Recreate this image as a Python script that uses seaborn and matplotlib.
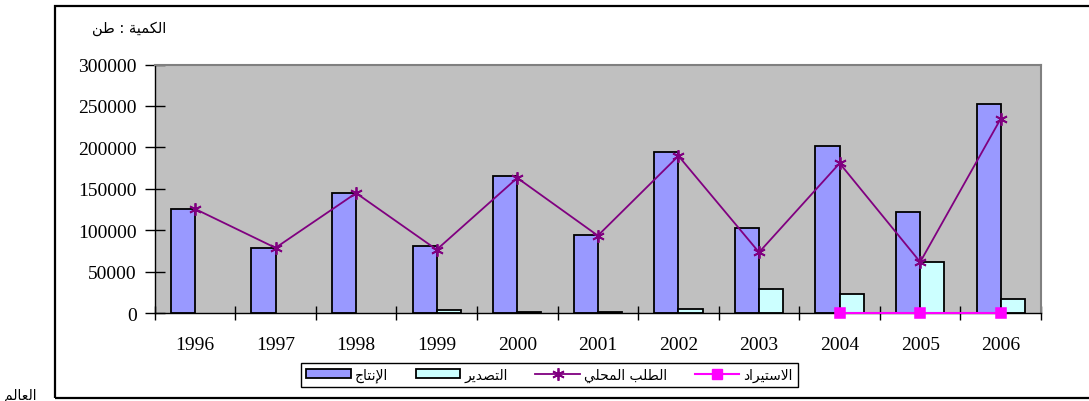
import numpy as np
import pandas as pd
import seaborn as sns
import matplotlib
matplotlib.use("Agg")
import matplotlib.pyplot as plt
from matplotlib.patches import Patch, Rectangle
from matplotlib.lines import Line2D
from matplotlib.ticker import FuncFormatter

# data (tonnes)
years = ['1996', '1997', '1998', '1999', '2000', '2001', '2002', '2003', '2004', '2005', '2006']
production = [126000, 79000, 145500, 80800, 165300, 94800, 194600, 103300, 201900, 122600, 252900]
export = [np.nan, np.nan, np.nan, 3600, 1500, 1800, 5200, 29700, 22900, 61500, 17600]
demand = [126000, 79000, 145000, 76800, 163300, 93700, 189800, 73600, 181000, 61900, 234800]
imports = [np.nan] * 8 + [300, 300, 300]

lbl_prod = "الإنتاج"
lbl_exp = "التصدير"
lbl_dem = "الطلب المحلي"
lbl_imp = "الاستيراد"
unit_txt = "الكمية : طن"
corner_txt = "العالم"

# matplotlib has no arabic shaping -> use presentation forms, visual order
FORMS = {
    'ا': ('\uFE8D', '\uFE8E'), 'إ': ('\uFE87', '\uFE88'), 'ة': ('\uFE93', '\uFE94'),
    'د': ('\uFEA9', '\uFEAA'), 'ر': ('\uFEAD', '\uFEAE'),
    'ب': ('\uFE8F', '\uFE90', '\uFE91', '\uFE92'), 'ت': ('\uFE95', '\uFE96', '\uFE97', '\uFE98'),
    'ج': ('\uFE9D', '\uFE9E', '\uFE9F', '\uFEA0'), 'ح': ('\uFEA1', '\uFEA2', '\uFEA3', '\uFEA4'),
    'س': ('\uFEB1', '\uFEB2', '\uFEB3', '\uFEB4'), 'ص': ('\uFEB9', '\uFEBA', '\uFEBB', '\uFEBC'),
    'ط': ('\uFEC1', '\uFEC2', '\uFEC3', '\uFEC4'), 'ع': ('\uFEC9', '\uFECA', '\uFECB', '\uFECC'),
    'ك': ('\uFED9', '\uFEDA', '\uFEDB', '\uFEDC'), 'ل': ('\uFEDD', '\uFEDE', '\uFEDF', '\uFEE0'),
    'م': ('\uFEE1', '\uFEE2', '\uFEE3', '\uFEE4'), 'ن': ('\uFEE5', '\uFEE6', '\uFEE7', '\uFEE8'),
    'ي': ('\uFEF1', '\uFEF2', '\uFEF3', '\uFEF4'),
}
LAM_ALEF = {'ا': ('\uFEFB', '\uFEFC'), 'إ': ('\uFEF9', '\uFEFA')}


def shape_ar(s):
    out = []
    prev_joins = False
    i = 0
    while i < len(s):
        c = s[i]
        if c not in FORMS:
            out.append(c)
            prev_joins = False
            i += 1
            continue
        nxt = s[i + 1] if i + 1 < len(s) else ''
        if c == 'ل' and nxt in LAM_ALEF:
            out.append(LAM_ALEF[nxt][1 if prev_joins else 0])
            prev_joins = False
            i += 2
            continue
        f = FORMS[c]
        dual = len(f) == 4
        fwd = dual and nxt in FORMS
        if prev_joins and fwd:
            g = f[3]
        elif prev_joins:
            g = f[1]
        elif fwd:
            g = f[2]
        else:
            g = f[0]
        out.append(g)
        prev_joins = dual
        i += 1
    return ''.join(out[::-1])


plt.rcParams['font.family'] = ['Liberation Serif', 'DejaVu Sans']
AR = ['DejaVu Sans']

df_bars = pd.DataFrame({
    'year': years * 2,
    'series': [lbl_prod] * len(years) + [lbl_exp] * len(years),
    'value': production + export,
})
df_line = pd.DataFrame({'year': years, 'demand': demand, 'imports': imports})

c_prod, c_exp, c_dem, c_imp = '#9999FF', '#CCFFFF', '#800080', '#FF00FF'

fig = plt.figure(figsize=(10.89, 4.02), dpi=100)
ax = fig.add_axes([0.142, 0.218, 0.814, 0.619])
ax.set_facecolor('#C0C0C0')

sns.barplot(data=df_bars, x='year', y='value', hue='series', order=years,
            hue_order=[lbl_prod, lbl_exp], palette=[c_prod, c_exp], saturation=1,
            width=0.6, edgecolor='black', linewidth=1.3, errorbar=None,
            legend=False, ax=ax)
sns.pointplot(data=df_line, x='year', y='demand', order=years, color=c_dem,
              errorbar=None, marker=(6, 2, 0), markersize=9, markeredgewidth=1.3,
              linewidth=1.3, zorder=4, ax=ax)
sns.pointplot(data=df_line, x='year', y='imports', order=years, color=c_imp,
              errorbar=None, marker='s', markersize=7, linewidth=1.5, zorder=5,
              clip_on=False, ax=ax)

# excel style axes
n = len(years)
ax.set_xlim(-0.5, n - 0.5)
ax.set_xticks(np.arange(n + 1) - 0.5, labels=[''] * (n + 1))
ax.set_xticks(np.arange(n), labels=years, minor=True)
ax.tick_params(axis='x', which='major', direction='inout', length=10, width=1)
ax.tick_params(axis='x', which='minor', length=0, pad=16, labelsize=14)
ax.set_ylim(0, 300000)
ax.set_yticks(np.arange(0, 300001, 50000))
ax.yaxis.set_major_formatter(FuncFormatter(lambda v, p: f"{int(v)}"))
ax.tick_params(axis='y', direction='inout', length=14, width=1, pad=6, labelsize=14)
ax.set_xlabel('')
ax.set_ylabel('')
for side in ['left', 'bottom']:
    ax.spines[side].set_color('black')
    ax.spines[side].set_linewidth(1)
for side in ['top', 'right']:
    ax.spines[side].set_color('#808080')
    ax.spines[side].set_linewidth(1.5)

fig.text(0.119, 0.928, shape_ar(unit_txt), family=AR, fontsize=10.5, ha='center', va='center')
fig.text(0.004, 0.006, shape_ar(corner_txt), family=AR, fontsize=10, ha='left', va='baseline')

# outer chart frame (runs off the right edge)
fig.patches.append(Rectangle((55 / 1089, 1 - 399 / 402), 1.2, (399 - 7) / 402,
                             transform=fig.transFigure, fill=False,
                             edgecolor='black', linewidth=1.6))

handles = [
    Patch(facecolor=c_prod, edgecolor='black', linewidth=1.3),
    Patch(facecolor=c_exp, edgecolor='black', linewidth=1.3),
    Line2D([], [], color=c_dem, marker=(6, 2, 0), markersize=9, markeredgewidth=1.3, linewidth=1.3),
    Line2D([], [], color=c_imp, marker='s', markersize=7, linewidth=1.5),
]
labels = [shape_ar(t) for t in [lbl_prod, lbl_exp, lbl_dem, lbl_imp]]
leg = fig.legend(handles, labels, loc='center', bbox_to_anchor=(0.5046, 0.0647),
                 ncol=4, prop={'family': 'DejaVu Sans', 'size': 10}, frameon=True,
                 fancybox=False, edgecolor='black', framealpha=1, handlelength=3.2,
                 handleheight=0.6, columnspacing=2.0, borderpad=0.35, handletextpad=0.3,
                 borderaxespad=0)
leg.get_frame().set_linewidth(1)

plt.savefig("out.png", dpi=100)
